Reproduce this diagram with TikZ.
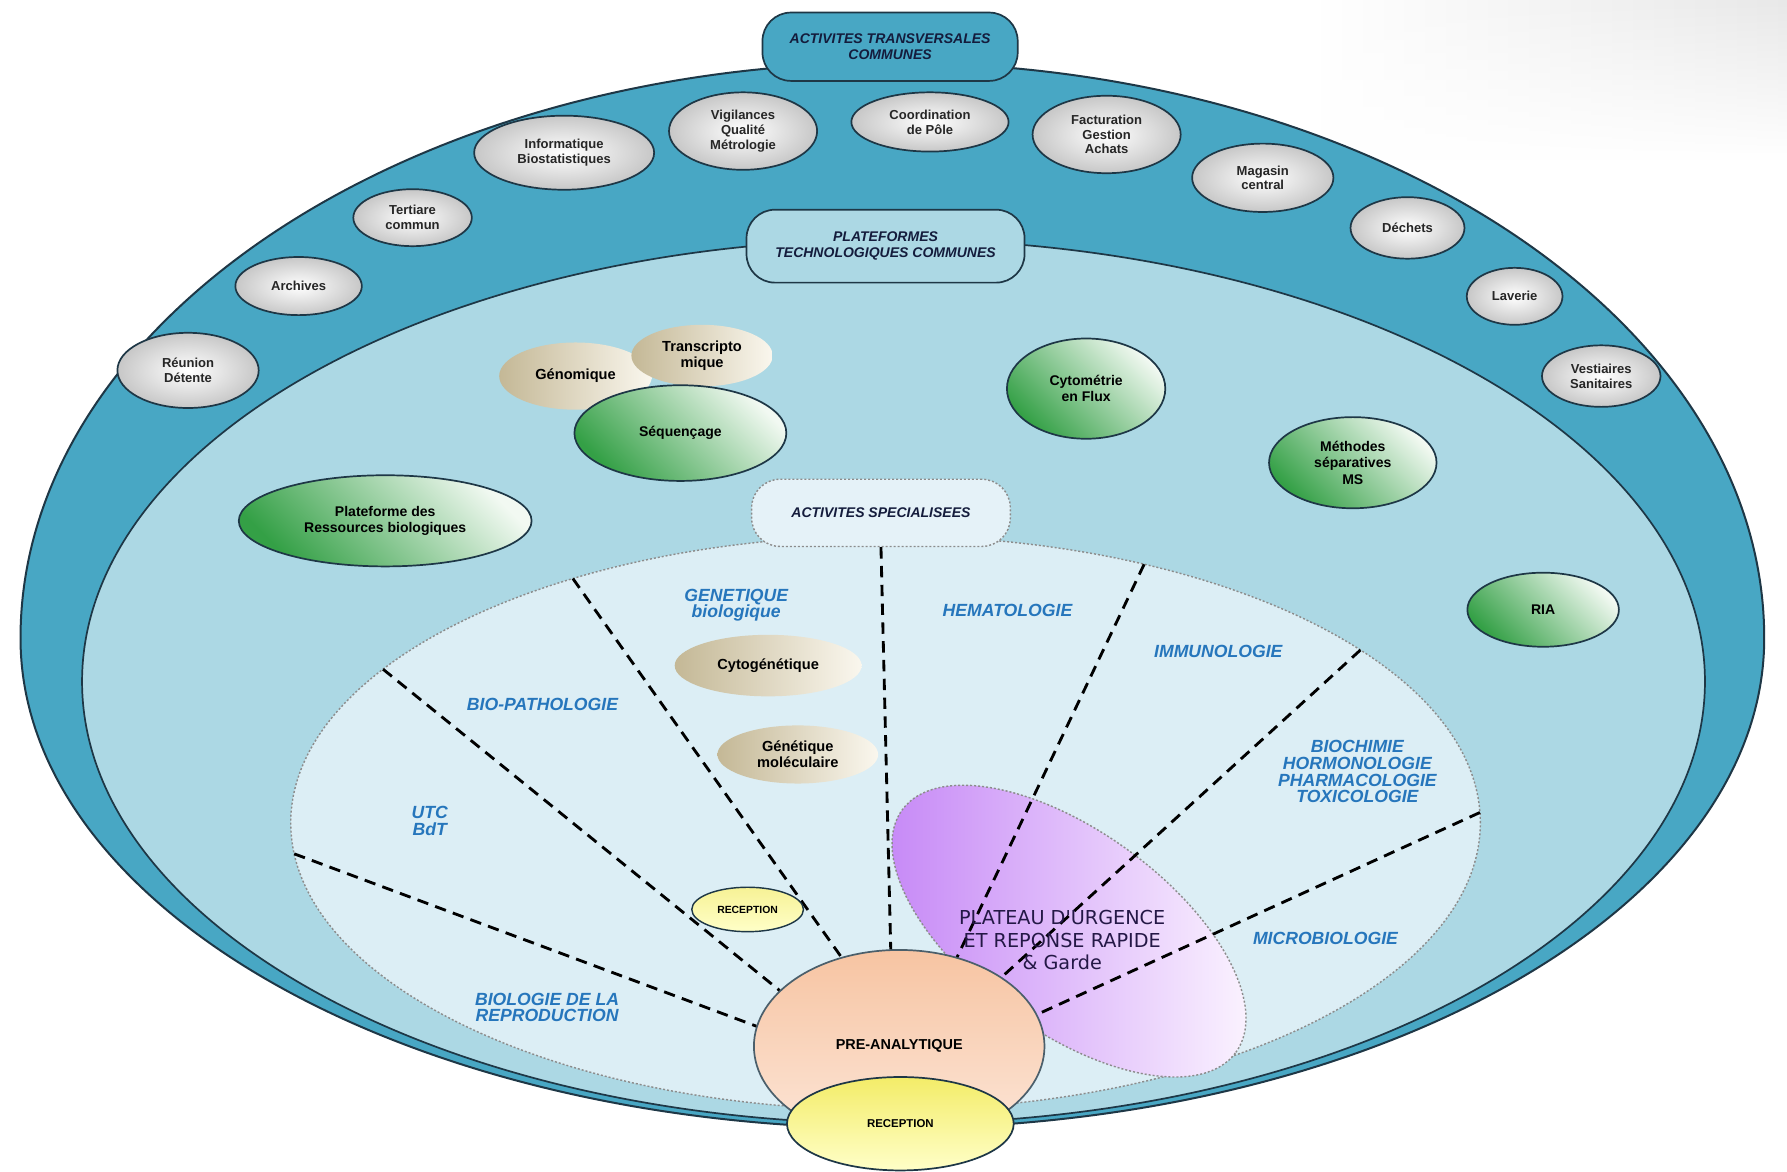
\documentclass[tikz,border=0pt]{standalone}
\usepackage{fontspec}
\setmainfont{Liberation Sans}
\newfontfamily\plateaufont{DejaVu Sans}
\usepackage{tikz}
\usetikzlibrary{shapes.geometric,fadings}
\definecolor{ringteal}{RGB}{72,167,196}
\definecolor{ringlight}{RGB}{172,216,228}
\definecolor{specfill}{RGB}{220,238,245}
\definecolor{edge}{RGB}{30,55,70}
\definecolor{navy}{RGB}{20,28,60}
\definecolor{deptblue}{RGB}{38,118,188}
\definecolor{greendark}{RGB}{52,160,70}
\definecolor{greenlite}{RGB}{242,249,242}
\definecolor{beigedark}{RGB}{196,184,150}
\definecolor{beigelite}{RGB}{250,247,238}
\definecolor{peachtop}{RGB}{247,196,162}
\definecolor{peachbot}{RGB}{252,230,216}
\definecolor{yellowtop}{RGB}{243,236,104}
\definecolor{yellowbot}{RGB}{255,255,200}
\definecolor{urgpurple}{RGB}{196,132,246}
\definecolor{urgwhite}{RGB}{253,248,255}
\tikzset{
  service/.style={ellipse, draw=edge, line width=0.3mm, inner sep=0pt, align=center,
    inner color=white, outer color=black!22, text=black!85,
    font=\fontsize{6.5}{7.4}\selectfont\bfseries},
  platform/.style={ellipse, draw=edge, line width=0.3mm, inner sep=0pt, align=center,
    top color=greenlite, bottom color=greendark, shading angle=-45,
    font=\fontsize{7}{8.2}\selectfont\bfseries},
  subplat/.style={ellipse, inner sep=0pt, align=center,
    left color=beigedark, right color=beigelite,
    font=\fontsize{7.3}{8}\selectfont\bfseries},
  banner/.style={rectangle, rounded corners=5mm, draw=edge, line width=0.3mm,
    inner sep=0pt, align=center, text=navy,
    font=\fontsize{7}{7.9}\selectfont\bfseries\itshape},
  dept/.style={align=center, inner sep=0pt, text=deptblue,
    font=\fontsize{8.8}{8.4}\selectfont\bfseries\itshape},
  faint/.style={draw=black!45, line width=0.25mm, dash pattern=on 0.35mm off 0.35mm},
  divider/.style={line width=0.5mm, dash pattern=on 2mm off 1.3mm},
}

\begin{document}
\begin{tikzpicture}[x=0.02cm, y=-0.02cm]
  \useasboundingbox (0,0) rectangle (1568,1028);
  \fill[white] (0,0) rectangle (1568,1028);
  \shade[left color=white, right color=black!9, path fading=south] (1150,0) rectangle (1568,140);

  % rings
  \draw[edge, line width=0.35mm, fill=ringteal]
    (1548,560) arc[start angle=0, end angle=-180, x radius=765, y radius=505]
    arc[start angle=180, end angle=0, x radius=765, y radius=430] -- cycle;
  \draw[edge, line width=0.3mm, fill=ringlight] (784,598) ellipse [x radius=712, y radius=388];
  \node[ellipse, faint, fill=specfill, minimum width=208.8mm, minimum height=100.8mm,
    inner sep=0pt, outer sep=0pt] (spec) at (777,722) {};

  \node[banner, fill=ringteal, minimum width=44.8mm, minimum height=12mm] (transv) at (781,41)
    {ACTIVITES TRANSVERSALES\\COMMUNES};
  \node[banner, fill=ringlight, minimum width=48.8mm, minimum height=12.8mm] (techno) at (777,216)
    {PLATEFORMES\\TECHNOLOGIQUES COMMUNES};
  \node[banner, faint, fill=specfill!75!white, minimum width=45.4mm, minimum height=11.8mm] (specbox) at (773,450)
    {ACTIVITES SPECIALISEES};

  % activites transversales
  \node[service, minimum width=24.8mm, minimum height=13.2mm] (reunion) at (165,325) {Réunion\\Détente};
  \node[service, minimum width=22.2mm, minimum height=10.2mm] (archives) at (262,251) {Archives};
  \node[service, minimum width=20.8mm, minimum height=10mm] (tertiaire) at (362,191) {Tertiare\\commun};
  \node[service, minimum width=31.6mm, minimum height=13mm] (info) at (495,134) {Informatique\\Biostatistiques};
  \node[service, minimum width=26mm, minimum height=13.6mm] (vigil) at (652,115) {Vigilances\\Qualité\\Métrologie};
  \node[service, minimum width=27.6mm, minimum height=10.4mm] (coord) at (816,107) {Coordination\\de Pôle};
  \node[service, minimum width=26mm, minimum height=13.6mm] (factu) at (971,118) {Facturation\\Gestion\\Achats};
  \node[service, minimum width=24.8mm, minimum height=12mm] (magasin) at (1108,156) {Magasin\\central};
  \node[service, minimum width=20mm, minimum height=10.8mm] (dechets) at (1235,200) {Déchets};
  \node[service, minimum width=16.8mm, minimum height=10mm] (laverie) at (1329,260) {Laverie};
  \node[service, minimum width=20.8mm, minimum height=10.8mm] (vest) at (1405,330) {Vestiaires\\Sanitaires};

  % plateformes
  \node[subplat, minimum width=26.8mm, minimum height=11.8mm] (geno) at (505,330) {Génomique};
  \node[subplat, minimum width=24.8mm, minimum height=10.8mm] (trans) at (616,312) {Transcripto\\mique};
  \node[platform, minimum width=37.2mm, minimum height=16.8mm] (seq) at (597,380) {Séquençage};
  \node[platform, minimum width=51.4mm, minimum height=16mm] (prb) at (338,457) {Plateforme des\\Ressources biologiques};
  \node[platform, minimum width=27.8mm, minimum height=17.6mm] (cyto) at (953,341) {Cytométrie\\en Flux};
  \node[platform, minimum width=29.4mm, minimum height=16mm] (ms) at (1187,406) {Méthodes\\séparatives\\MS};
  \node[platform, minimum width=26.6mm, minimum height=13mm] (ria) at (1354,535) {RIA};

  % activites specialisees
  \node[dept] (genet) at (646,531) {GENETIQUE\\biologique};
  \node[subplat, minimum width=32.8mm, minimum height=10.8mm] (cytog) at (674,584) {Cytogénétique};
  \node[subplat, minimum width=28.2mm, minimum height=10.2mm] (genmol) at (700,662) {Génétique\\moléculaire};
  \node[dept] (biopath) at (476,618) {BIO-PATHOLOGIE};
  \node[dept] (hemato) at (884,536) {HEMATOLOGIE};
  \node[dept] (immuno) at (1069,572) {IMMUNOLOGIE};
  \node[dept] (biochim) at (1191,677) {BIOCHIMIE\\HORMONOLOGIE\\PHARMACOLOGIE\\TOXICOLOGIE};
  \node[dept] (utc) at (377,720) {UTC\\BdT};
  \node[dept] (micro) at (1163,823) {MICROBIOLOGIE};
  \node[dept] (repro) at (480,884) {BIOLOGIE DE LA\\REPRODUCTION};

  \node[ellipse, faint, rotate=-36, left color=urgpurple, right color=urgwhite,
    minimum width=72.4mm, minimum height=35.2mm, inner sep=0pt] (urgence) at (938,817) {};
  \node[ellipse, draw=edge!80, line width=0.3mm, top color=peachtop, bottom color=peachbot,
    minimum width=51mm, minimum height=33.8mm, inner sep=0pt,
    font=\fontsize{7.2}{8}\selectfont\bfseries] (pre) at (789,918) {PRE-ANALYTIQUE};

  \foreach \a/\b in {183/172.7, 163.1/155.9, 142.6/123.7, 45.7/57.5, 20.8/34.3, 1/13.1}
    \draw[divider] (spec.\a) -- (pre.\b);
  \draw[divider] (specbox.south) -- (pre.95.3);

  \node[ellipse, draw=edge, line width=0.25mm, top color=yellowtop!70!white, bottom color=yellowbot,
    minimum width=19.6mm, minimum height=7.8mm, inner sep=0pt,
    font=\fontsize{5.2}{6}\selectfont\bfseries] (recepsmall) at (656,798) {RECEPTION};
  \node[ellipse, draw=edge, line width=0.3mm, top color=yellowtop, bottom color=yellowbot,
    minimum width=39.8mm, minimum height=16.4mm, inner sep=0pt,
    font=\fontsize{5.7}{6.5}\selectfont\bfseries] (recep) at (790,986) {RECEPTION};
  \node[align=center, inner sep=0pt, text=navy!85!violet,
    font=\plateaufont\fontsize{9.6}{11.3}\selectfont] (urgtxt) at (932,825)
    {PLATEAU D'URGENCE\\ET REPONSE RAPIDE\\\& Garde};
\end{tikzpicture}
\end{document}
